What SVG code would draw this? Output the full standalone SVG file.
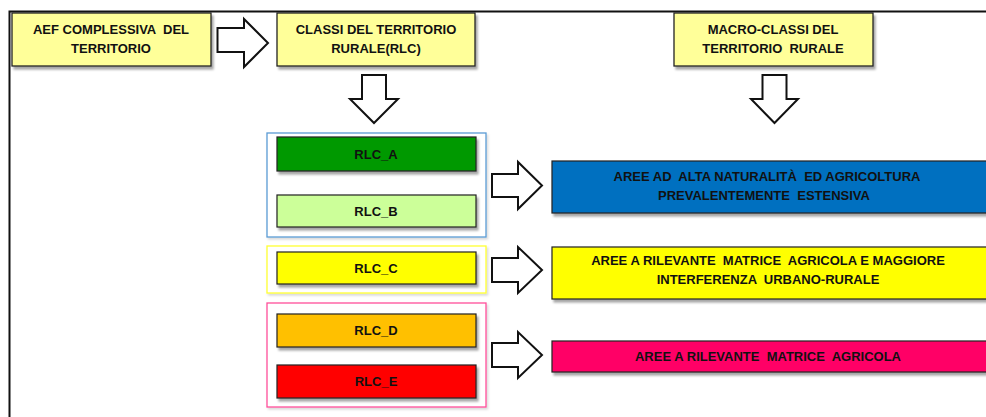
<svg xmlns="http://www.w3.org/2000/svg" width="986" height="417" viewBox="0 0 986 417">
<defs>
<style>
.t{font-family:"Liberation Sans",Arial,sans-serif;font-weight:bold;font-size:13px;fill:#111;text-anchor:middle;white-space:pre}
.hdr{fill:#FFFF99;stroke:#222;stroke-width:1.3}
.rlc{stroke:#222;stroke-width:1.2}
.mac{stroke:#222;stroke-width:1.2}
.grp{fill:#fff;stroke-width:1.3}
.arr{fill:#fff;stroke:#111;stroke-width:2;stroke-linejoin:miter}
</style>
<filter id="sh" x="-10%" y="-20%" width="130%" height="160%">
<feDropShadow dx="2" dy="3" stdDeviation="1.3" flood-color="#000" flood-opacity="0.35"/>
</filter>
<filter id="sh2" x="-10%" y="-20%" width="130%" height="160%">
<feDropShadow dx="1.5" dy="2" stdDeviation="1.2" flood-color="#000" flood-opacity="0.15"/>
</filter>
</defs>
<rect width="986" height="417" fill="#fff"/>
<path d="M9.5 417 V11.5 H986" fill="none" stroke="#111" stroke-width="2"/>

<g id="aef">
<rect class="hdr" x="12" y="13" width="199" height="53" filter="url(#sh)"/>
<text class="t" x="111" y="34">AEF COMPLESSIVA  DEL</text>
<text class="t" x="111" y="53">TERRITORIO</text>
</g>
<g id="classi">
<rect class="hdr" x="277" y="13" width="198" height="53" filter="url(#sh)"/>
<text class="t" x="376" y="34">CLASSI DEL TERRITORIO</text>
<text class="t" x="376" y="53">RURALE(RLC)</text>
</g>
<g id="macro">
<rect class="hdr" x="674" y="13" width="199" height="53" filter="url(#sh)"/>
<text class="t" x="773" y="34">MACRO-CLASSI DEL</text>
<text class="t" x="773" y="53">TERRITORIO  RURALE</text>
</g>

<g id="groupAB">
<rect class="grp" x="267" y="133" width="219" height="104" stroke="#5B9BD5" filter="url(#sh2)"/>
</g>
<g id="groupC">
<rect class="grp" x="267" y="246" width="219" height="47" stroke="#FFFF33" filter="url(#sh2)"/>
</g>
<g id="groupDE">
<rect class="grp" x="267" y="303" width="219" height="104" stroke="#FF4F9A" filter="url(#sh2)"/>
</g>

<g id="rlc_a">
<rect class="rlc" x="277" y="137" width="199" height="34" fill="#009900" filter="url(#sh)"/>
<text class="t" x="376" y="159">RLC_A</text>
</g>
<g id="rlc_b">
<rect class="rlc" x="277" y="195" width="199" height="32" fill="#CCFF99" filter="url(#sh)"/>
<text class="t" x="376" y="216">RLC_B</text>
</g>
<g id="rlc_c">
<rect class="rlc" x="277" y="252" width="199" height="32" fill="#FFFF00" filter="url(#sh)"/>
<text class="t" x="376" y="273">RLC_C</text>
</g>
<g id="rlc_d">
<rect class="rlc" x="277" y="314" width="199" height="33" fill="#FFC000" filter="url(#sh)"/>
<text class="t" x="376" y="335">RLC_D</text>
</g>
<g id="rlc_e">
<rect class="rlc" x="277" y="365" width="199" height="33" fill="#FF0000" filter="url(#sh)"/>
<text class="t" x="376" y="386">RLC_E</text>
</g>

<g id="macro_blue">
<rect class="mac" x="552" y="161" width="440" height="52" fill="#0070C0" filter="url(#sh)"/>
<text class="t" x="767" y="181">AREE AD  ALTA NATURALITÀ  ED AGRICOLTURA</text>
<text class="t" x="764" y="200">PREVALENTEMENTE  ESTENSIVA</text>
</g>
<g id="macro_yellow">
<rect class="mac" x="552" y="247" width="440" height="52" fill="#FFFF00" filter="url(#sh)"/>
<text class="t" x="768" y="265">AREE A RILEVANTE  MATRICE  AGRICOLA E MAGGIORE</text>
<text class="t" x="768" y="284">INTERFERENZA  URBANO-RURALE</text>
</g>
<g id="macro_pink">
<rect class="mac" x="552" y="341" width="440" height="31" fill="#FF0066" filter="url(#sh)"/>
<text class="t" x="768" y="361">AREE A RILEVANTE  MATRICE  AGRICOLA</text>
</g>

<g id="connectors">
<path class="arr" d="M217.5 28 H244 V19 L268 43 L244 67 V52 H217.5 Z"/>
<path class="arr" d="M362 75 H386 V99 H398 L374 123 L350 99 H362 Z"/>
<path class="arr" d="M762.5 75 H786.5 V99 H798 L774.5 123 L751 99 H762.5 Z"/>
<path class="arr" d="M492 174 H518 V162 L542 185.5 L518 209 V197 H492 Z"/>
<path class="arr" d="M492 258 H518 V247 L542 270 L518 293 V282 H492 Z"/>
<path class="arr" d="M492 343 H518 V332 L542 355 L518 378 V367 H492 Z"/>
</g>
</svg>
